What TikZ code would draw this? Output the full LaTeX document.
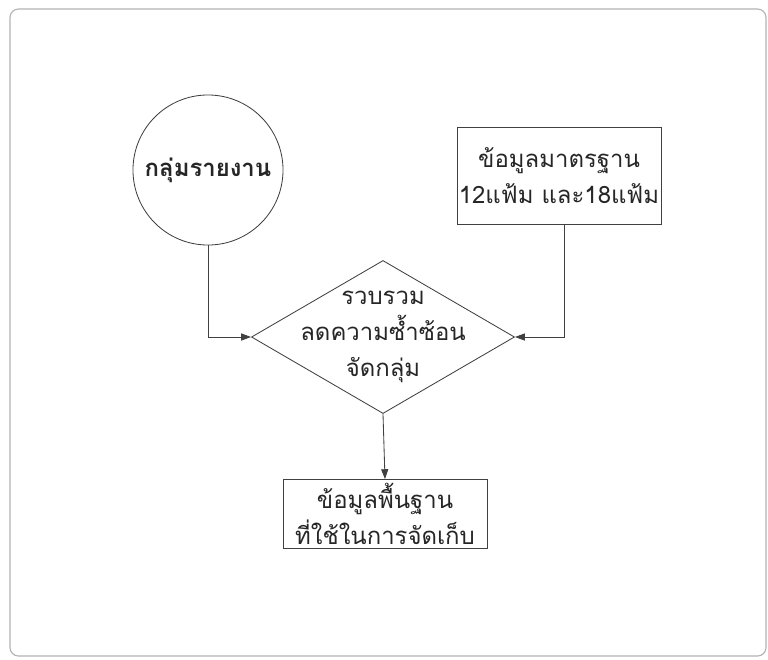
\documentclass[tikz,border=0pt]{standalone}
\usepackage{fontspec}
\newfontfamily\thaifont[Script=Thai]{Loma}
\usetikzlibrary{shapes.geometric,arrows.meta}

\begin{document}
\begin{tikzpicture}[x=0.025cm,y=-0.025cm,
  every node/.style={font=\thaifont\fontsize{17}{25.5}\selectfont,align=center,text=black!85},
  block/.style={draw=black!75,line width=0.6pt,minimum width=5.1cm,minimum height=2.425cm,inner sep=0pt},
  flow/.style={draw=black!75,line width=0.6pt,-{Triangle[length=7pt,width=5pt]}}]
\useasboundingbox (0,0) rectangle (768,659);
% frame
\draw[gray!60,line width=0.8pt,rounded corners=6] (10,9) rectangle (766,656);
% shapes
\node[draw=black!75,line width=0.6pt,circle,minimum size=3.75cm,inner sep=0pt,font=\thaifont\bfseries\fontsize{17}{25.5}\selectfont] (report) at (208,170) {กลุ่มรายงาน};
\node[block] (standard) at (559,176) {ข้อมูลมาตรฐาน\\12แฟ้ม และ18แฟ้ม};
\node[draw=black!75,line width=0.6pt,diamond,minimum width=6.575cm,minimum height=3.825cm,inner sep=0pt] (merge) at (383,337) {};
\node (mergetext) at (merge) {รวบรวม\\ลดความซ้ำซ้อน\\จัดกลุ่ม};
\node[block,minimum height=1.725cm] (basic) at (385,514) {ข้อมูลพื้นฐาน\\ที่ใช้ในการจัดเก็บ};
% connectors
\draw[flow] (report.south) |- (merge.west);
\draw[flow] ([xshift=0.125cm]standard.south) |- (merge.east);
\draw[flow] (merge.south) -- (basic.north);
\end{tikzpicture}
\end{document}
